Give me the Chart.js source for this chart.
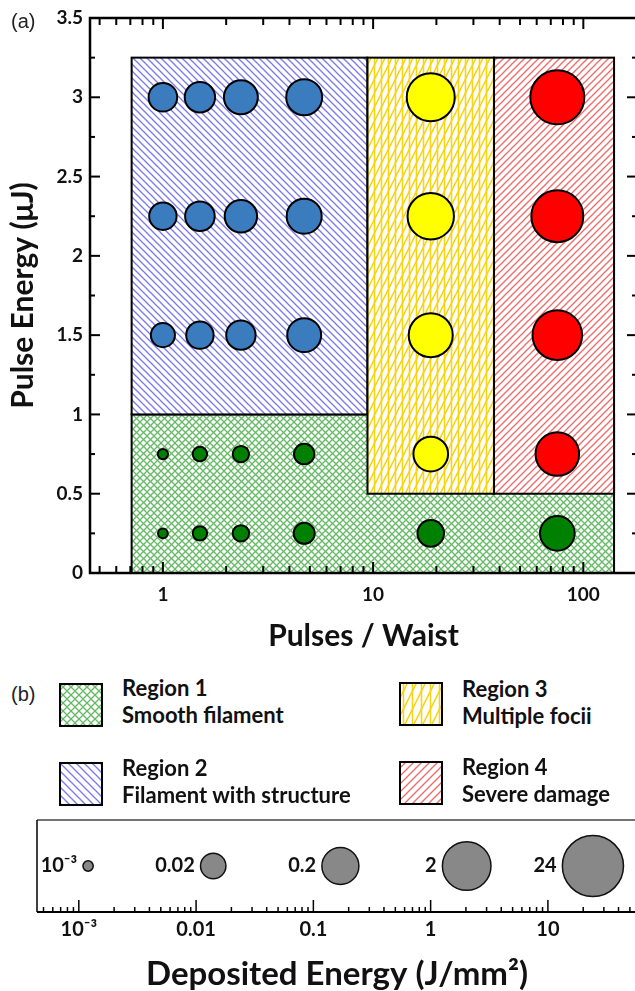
<!DOCTYPE html>
<html>
<head>
<meta charset="utf-8">
<script src="https://cdn.jsdelivr.net/npm/chart.js@4.4.1/dist/chart.umd.min.js"></script>
<style>
  html, body { margin: 0; padding: 0; background: #fff; overflow: hidden; }
  #wrap { position: relative; width: 635px; height: 991px; overflow: hidden; background: #fff; }
  #cMain { position: absolute; left: 0; top: -40px; }
  #cScale { position: absolute; left: 0; top: 770px; }
  .abs { position: absolute; }
  .panel { font-family: "Liberation Sans", Arial, sans-serif; font-size: 20px; line-height: 20px; color: #222; }
  .lg { position: absolute; font-family: Lato, sans-serif; font-weight: 700; font-size: 22px; line-height: 27px; color: #111; white-space: nowrap; }
  .sw { position: absolute; }
</style>
</head>
<body>
<div id="wrap">
  <canvas id="cMain" width="700" height="700"></canvas>
  <canvas id="cScale" width="700" height="221"></canvas>
  <div class="abs panel" style="left:11px; top:11px;">(a)</div>
  <div class="abs panel" style="left:11px; top:684px;">(b)</div>
  <div id="legend"></div>
</div>
<script>
// ---- data ----
// x tick labels (Pulses / Waist) and y tick labels (Pulse Energy)
const xTickValues = [1, 10, 100];
const xTickLabels = ['1', '10', '100'];
const yTickValues = [0, 0.5, 1, 1.5, 2, 2.5, 3, 3.5];
const yTickLabels = ['0', '0.5', '1', '1.5', '2', '2.5', '3', '3.5'];

// regime boundaries (pulses / waist, pulse energy in µJ)
const regionNames = ['Region 1', 'Region 2', 'Region 3', 'Region 4'];
const regionNotes = ['Smooth filament', 'Filament with structure', 'Multiple focii', 'Severe damage'];
const regionLeft   = [0.71, 0.71, 9.4, 37.6];
const regionRight  = [140, 9.4, 37.6, 140];
const regionBottom = [0, 1, 0.5, 0.5];
const regionTop    = [1, 3.25, 3.25, 3.25];

// measurements: position and deposited energy (J/mm^2), grouped by regime
const greenX = [1, 1.5, 2.35, 4.7, 18.8, 75.2, 1, 1.5, 2.35, 4.7];
const greenY = [0.25, 0.25, 0.25, 0.25, 0.25, 0.25, 0.75, 0.75, 0.75, 0.75];
const greenE = [0.001, 0.0025, 0.0037, 0.0093, 0.028, 0.14, 0.0011, 0.0025, 0.0037, 0.0083];

const blueX = [1, 1.5, 2.35, 4.7, 1, 1.5, 2.35, 4.7, 1, 1.5, 2.35, 4.7];
const blueY = [1.5, 1.5, 1.5, 1.5, 2.25, 2.25, 2.25, 2.25, 3, 3, 3, 3];
const blueE = [0.017, 0.033, 0.049, 0.12, 0.033, 0.051, 0.089, 0.15, 0.042, 0.06, 0.12, 0.18];

const yellowX = [18.8, 18.8, 18.8, 18.8];
const yellowY = [0.75, 1.5, 2.25, 3];
const yellowE = [0.14, 0.89, 1.43, 1.96];

const redX = [75.2, 75.2, 75.2, 75.2];
const redY = [0.75, 1.5, 2.25, 3];
const redE = [0.82, 2.7, 4.3, 6.5];

// deposited-energy size key
const keyEnergy = [0.001, 0.02, 0.2, 2, 24];
const keyLabels = ['10\u207B\u00B3', '0.02', '0.2', '2', '24'];
const keyPos    = [0.0012, 0.014, 0.17, 2.03, 24.2];
const keyTickValues = [0.001, 0.01, 0.1, 1, 10];
const keyTickLabels = ['10\u207B\u00B3', '0.01', '0.1', '1', '10'];

// ---- styling ----
const regionStyle = [
  { kind: 'cross', color: '#66bb66', lw: 1.3 },
  { kind: 'back',  color: '#7a7af0', lw: 1.3 },
  { kind: 'vgrid', color: '#f8d414', lw: 1.6 },
  { kind: 'fwd',   color: '#f06a6a', lw: 1.3 }
];
const FONT = 'Lato, "DejaVu Sans", sans-serif';

// outer bubble radius (px) for a deposited energy
function bubbleRadius(e) { return 23.3 + 5.8 * Math.log10(e); }

function makeTile(st, s) {
  const c = document.createElement('canvas');
  const w = s, h = st.kind === 'vgrid' ? 2 * s : s;
  c.width = w; c.height = h;
  const g = c.getContext('2d');
  g.strokeStyle = st.color; g.lineWidth = st.lw;
  const line = (x1, y1, x2, y2) => { g.beginPath(); g.moveTo(x1, y1); g.lineTo(x2, y2); g.stroke(); };
  if (st.kind === 'fwd' || st.kind === 'cross') {
    line(-1, h + 1, w + 1, -1); line(-1, 1, 1, -1); line(w - 1, h + 1, w + 1, h - 1);
  }
  if (st.kind === 'back' || st.kind === 'cross') {
    line(-1, -1, w + 1, h + 1); line(-1, h - 1, 1, h + 1); line(w - 1, -1, w + 1, 1);
  }
  if (st.kind === 'vgrid') {
    line(w / 2, -1, w / 2, h + 1);
    line(-0.5, h + 1, w + 0.5, -1);
    line(-0.5, 1, 0.5, -1);
    line(w - 0.5, h + 1, w + 0.5, h - 1);
  }
  return c;
}

function minorTicks(min, max) {
  const out = [];
  for (let d = Math.pow(10, Math.floor(Math.log10(min))); d < max; d *= 10) {
    for (let m = 2; m <= 9; m++) {
      const v = m * d;
      if (v > min && v < max) out.push(v);
    }
  }
  return out;
}

function seg(ctx, x1, y1, x2, y2) { ctx.beginPath(); ctx.moveTo(x1, y1); ctx.lineTo(x2, y2); ctx.stroke(); }

function build() {
  const mainCanvas = document.getElementById('cMain');
  const mctx = mainCanvas.getContext('2d');
  const patterns = regionStyle.map(st => mctx.createPattern(makeTile(st, 7), 'repeat'));

  const regionPlugin = {
    id: 'regions',
    beforeDatasetsDraw(chart) {
      const { ctx, scales: { x, y } } = chart;
      ctx.save();
      for (let i = 0; i < regionLeft.length; i++) {
        const l = x.getPixelForValue(regionLeft[i]);
        const r = x.getPixelForValue(regionRight[i]);
        const t = y.getPixelForValue(regionTop[i]);
        const b = y.getPixelForValue(regionBottom[i]);
        ctx.fillStyle = '#fff'; ctx.fillRect(l, t, r - l, b - t);
        ctx.fillStyle = patterns[i]; ctx.fillRect(l, t, r - l, b - t);
        ctx.strokeStyle = '#000'; ctx.lineWidth = 2; ctx.strokeRect(l, t, r - l, b - t);
      }
      ctx.restore();
    }
  };

  const framePlugin = {
    id: 'frame',
    afterDatasetsDraw(chart) {
      const { ctx, chartArea: a, scales: { x, y } } = chart;
      ctx.save();
      ctx.strokeStyle = '#000'; ctx.lineWidth = 2;
      minorTicks(x.min, x.max).forEach(v => {
        const p = x.getPixelForValue(v);
        seg(ctx, p, a.bottom, p, a.bottom - 7); seg(ctx, p, a.top, p, a.top + 7);
      });
      xTickValues.forEach(v => {
        const p = x.getPixelForValue(v);
        seg(ctx, p, a.bottom, p, a.bottom - 11); seg(ctx, p, a.top, p, a.top + 11);
      });
      yTickValues.forEach(v => {
        const p = y.getPixelForValue(v);
        seg(ctx, a.left, p, a.left + 10, p); seg(ctx, a.right, p, a.right - 10, p);
      });
      yTickValues.slice(0, -1).forEach(v => {
        const p = y.getPixelForValue(v + 0.25);
        seg(ctx, a.left, p, a.left + 5, p); seg(ctx, a.right, p, a.right - 5, p);
      });
      ctx.lineWidth = 2.5;
      ctx.strokeRect(a.left, a.top, a.right - a.left, a.bottom - a.top);
      ctx.restore();
    }
  };

  const pts = (xs, ys) => xs.map((v, i) => ({ x: v, y: ys[i] }));
  const series = (xs, ys, es, fill) => ({
    data: pts(xs, ys),
    pointRadius: es.map(e => bubbleRadius(e) - 1),
    pointHoverRadius: es.map(e => bubbleRadius(e) - 1),
    pointBackgroundColor: fill,
    pointBorderColor: '#000',
    pointBorderWidth: 2,
    pointHoverBorderWidth: 2,
    showLine: false
  });

  const tickFont = { family: FONT, weight: 'bold', size: 19 };
  const titleFont = { family: FONT, weight: 'bold', size: 30, lineHeight: 1 };

  new Chart(mainCanvas, {
    type: 'scatter',
    data: {
      datasets: [
        series(greenX, greenY, greenE, '#008000'),
        series(blueX, blueY, blueE, '#3a7cbd'),
        series(yellowX, yellowY, yellowE, '#ffff00'),
        series(redX, redY, redE, '#ff0000')
      ]
    },
    options: {
      responsive: false, maintainAspectRatio: false, animation: false, events: [], devicePixelRatio: 1,
      layout: { padding: { left: 0, top: 58, right: 63, bottom: 0 } },
      plugins: { legend: { display: false }, tooltip: { enabled: false } },
      scales: {
        x: {
          type: 'logarithmic', position: 'bottom', min: 0.45, max: 180,
          grid: { display: false, drawTicks: false }, border: { display: false },
          afterBuildTicks: s => { s.ticks = xTickValues.map(v => ({ value: v })); },
          ticks: { callback: (v, i) => xTickLabels[i], font: tickFont, color: '#111', padding: 10, maxRotation: 0, autoSkip: false },
          title: { display: true, text: 'Pulses / Waist', font: titleFont, color: '#111', padding: { top: 0, bottom: 9 } },
          afterFit: s => { s.height = 87; }
        },
        y: {
          type: 'linear', position: 'left', min: 0, max: 3.5,
          grid: { display: false, drawTicks: false }, border: { display: false },
          afterBuildTicks: s => { s.ticks = yTickValues.map(v => ({ value: v })); },
          ticks: { callback: (v, i) => yTickLabels[i], font: tickFont, color: '#111', padding: 7, autoSkip: false },
          title: { display: true, text: 'Pulse Energy (\u03BCJ)', font: titleFont, color: '#111', padding: { top: 8, bottom: 0 } },
          afterFit: s => { s.width = 90; }
        }
      }
    },
    plugins: [regionPlugin, framePlugin]
  });

  // ---- deposited-energy size key ----
  const keyFont = { family: FONT, weight: 'bold', size: 20 };
  const keyLabelPlugin = {
    id: 'keyLabels',
    afterDatasetsDraw(chart) {
      const { ctx, scales: { x, y } } = chart;
      ctx.save();
      ctx.fillStyle = '#111';
      ctx.font = 'bold 20px ' + FONT;
      ctx.textAlign = 'right'; ctx.textBaseline = 'middle';
      keyPos.forEach((v, i) => {
        const px = x.getPixelForValue(v), py = y.getPixelForValue(0.5);
        ctx.fillText(keyLabels[i], px - bubbleRadius(keyEnergy[i]) - 5, py);
      });
      ctx.restore();
    }
  };
  const keyFramePlugin = {
    id: 'keyFrame',
    afterDatasetsDraw(chart) {
      const { ctx, chartArea: a, scales: { x } } = chart;
      ctx.save();
      ctx.strokeStyle = '#444'; ctx.lineWidth = 1.5;
      seg(ctx, a.left, a.top, a.right, a.top);
      ctx.strokeStyle = '#000';
      seg(ctx, a.left, a.top, a.left, a.bottom);
      seg(ctx, a.right, a.top, a.right, a.bottom);
      minorTicks(x.min, x.max).forEach(v => {
        const p = x.getPixelForValue(v); seg(ctx, p, a.bottom, p, a.bottom - 5);
      });
      keyTickValues.forEach(v => {
        const p = x.getPixelForValue(v); seg(ctx, p, a.bottom, p, a.bottom - 12);
      });
      ctx.lineWidth = 2;
      seg(ctx, a.left, a.bottom, a.right, a.bottom);
      ctx.restore();
    }
  };

  new Chart(document.getElementById('cScale'), {
    type: 'scatter',
    data: {
      datasets: [{
        data: keyPos.map(v => ({ x: v, y: 0.5 })),
        pointRadius: keyEnergy.map(e => bubbleRadius(e) - 0.75),
        pointHoverRadius: keyEnergy.map(e => bubbleRadius(e) - 0.75),
        pointBackgroundColor: '#888888',
        pointBorderColor: '#111',
        pointBorderWidth: 1.5,
        showLine: false
      }]
    },
    options: {
      responsive: false, maintainAspectRatio: false, animation: false, events: [], devicePixelRatio: 1,
      layout: { padding: { left: 37, top: 50, right: 63, bottom: 0 } },
      plugins: { legend: { display: false }, tooltip: { enabled: false } },
      scales: {
        x: {
          type: 'logarithmic', position: 'bottom', min: 0.00044, max: 57.5,
          grid: { display: false, drawTicks: false }, border: { display: false },
          afterBuildTicks: s => { s.ticks = keyTickValues.map(v => ({ value: v })); },
          ticks: { callback: (v, i) => keyTickLabels[i], font: keyFont, color: '#111', padding: 6, maxRotation: 0, autoSkip: false },
          title: { display: true, text: 'Deposited Energy (J/mm\u00B2)', font: { family: FONT, weight: 'bold', size: 33, lineHeight: 1 }, color: '#111', padding: { top: 0, bottom: 0 } },
          afterFit: s => { s.height = 79; }
        },
        y: { display: false, min: 0, max: 1 }
      }
    },
    plugins: [keyLabelPlugin, keyFramePlugin]
  });

  // ---- regime key ----
  const legend = document.getElementById('legend');
  const slots = [
    { sx: 59, sy: 683, tx: 122, ty: 674 },
    { sx: 59, sy: 762, tx: 122, ty: 754 },
    { sx: 399, sy: 682, tx: 462, ty: 675 },
    { sx: 399, sy: 761, tx: 462, ty: 753 }
  ];
  regionNames.forEach((name, i) => {
    const s = slots[i];
    const c = document.createElement('canvas');
    c.width = 44; c.height = 44; c.className = 'sw';
    c.style.left = s.sx + 'px'; c.style.top = s.sy + 'px';
    const g = c.getContext('2d');
    g.fillStyle = '#fff'; g.fillRect(0, 0, 44, 44);
    g.fillStyle = g.createPattern(makeTile(regionStyle[i], regionStyle[i].kind === 'vgrid' ? 9 : 8), 'repeat');
    g.fillRect(1, 1, 42, 42);
    g.strokeStyle = '#000'; g.lineWidth = 2; g.strokeRect(1, 1, 42, 42);
    legend.appendChild(c);
    const t = document.createElement('div');
    t.className = 'lg';
    t.style.left = s.tx + 'px'; t.style.top = s.ty + 'px';
    t.innerHTML = name + '<br>' + regionNotes[i];
    legend.appendChild(t);
  });
}

build();
</script>
</body>
</html>
